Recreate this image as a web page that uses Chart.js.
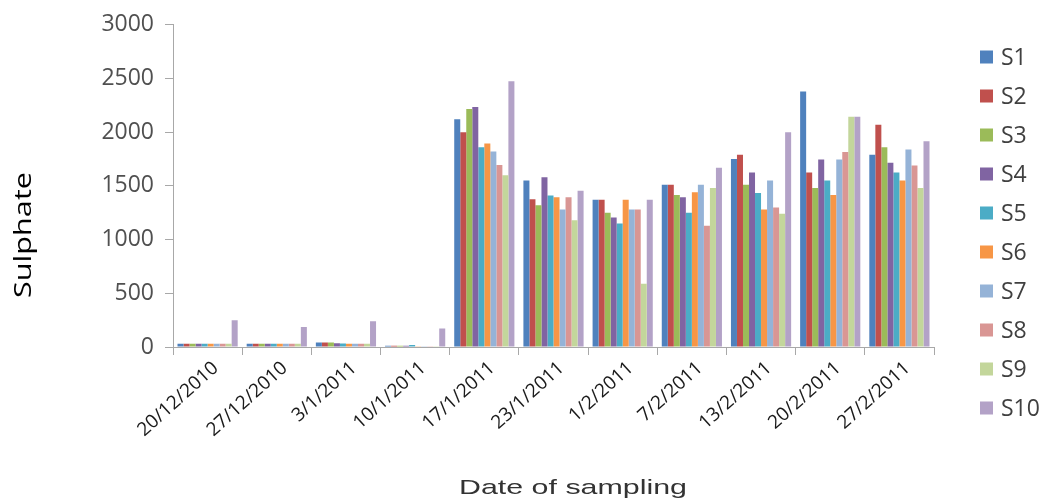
<!DOCTYPE html>
<html>
<head>
<meta charset="utf-8">
<script src="https://cdn.jsdelivr.net/npm/chart.js@4.4.0/dist/chart.umd.min.js"></script>
<style>
html,body{margin:0;padding:0;background:#fff;}
#wrap{width:1049px;height:503px;position:relative;}
</style>
</head>
<body>
<div id="wrap"><canvas id="c"></canvas></div>
<script>
// ---- data ----
const categories = ['20/12/2010','27/12/2010','3/1/2011','10/1/2011','17/1/2011','23/1/2011','1/2/2011','7/2/2011','13/2/2011','20/2/2011','27/2/2011'];
const seriesNames = ['S1','S2','S3','S4','S5','S6','S7','S8','S9','S10'];
const s1  = [30, 30, 43, 12, 2120, 1550, 1370, 1510, 1750, 2380, 1790];
const s2  = [30, 30, 43, 12, 2000, 1375, 1370, 1510, 1790, 1625, 2070];
const s3  = [30, 30, 43, 12, 2215, 1320, 1250, 1415, 1510, 1480, 1860];
const s4  = [30, 30, 35, 12, 2235, 1580, 1205, 1395, 1625, 1745, 1715];
const s5  = [30, 30, 33, 18, 1860, 1410, 1150, 1250, 1435, 1550, 1625];
const s6  = [30, 30, 30,  8, 1895, 1395, 1370, 1440, 1280, 1415, 1550];
const s7  = [30, 30, 30,  8, 1820, 1280, 1280, 1510, 1550, 1745, 1840];
const s8  = [30, 30, 30,  8, 1695, 1395, 1280, 1130, 1300, 1815, 1690];
const s9  = [30, 30, 30,  8, 1600, 1180,  590, 1480, 1240, 2145, 1480];
const s10 = [250, 186, 240, 172, 2475, 1455, 1370, 1670, 2000, 2145, 1915];
const seriesValues = [s1, s2, s3, s4, s5, s6, s7, s8, s9, s10];
const seriesColors = ['#4F81BD','#C0504D','#9BBB59','#8064A2','#4BACC6','#F79646','#95B3D7','#D99694','#C3D69B','#B3A2C7'];
const yMin = 0, yMax = 3000, yStep = 500;
const yAxisTitle = 'Sulphate';
const xAxisTitle = 'Date of sampling';

// ---- overlay: axis titles + legend ----
const overlay = {
  id: 'overlay',
  afterDraw(chart) {
    const ctx = chart.ctx;
    // y axis title
    ctx.save();
    ctx.font = '24px "Open Sans"';
    ctx.fillStyle = '#000';
    ctx.textAlign = 'center';
    ctx.textBaseline = 'middle';
    let w = ctx.measureText(yAxisTitle).width;
    ctx.translate(24, 235);
    ctx.rotate(-Math.PI / 2);
    ctx.scale(126 / w, 1);
    ctx.fillText(yAxisTitle, 0, 0);
    ctx.restore();
    // x axis title
    ctx.save();
    ctx.font = '21px "Liberation Sans"';
    ctx.fillStyle = '#333';
    ctx.textAlign = 'center';
    ctx.textBaseline = 'middle';
    w = ctx.measureText(xAxisTitle).width;
    ctx.translate(573, 488);
    ctx.scale(228 / w, 1);
    ctx.fillText(xAxisTitle, 0, 0);
    ctx.restore();
    // legend
    ctx.save();
    ctx.font = '23px "Open Sans"';
    ctx.textAlign = 'left';
    ctx.textBaseline = 'middle';
    chart.data.datasets.forEach((ds, i) => {
      const y = 57 + i * 39;
      ctx.fillStyle = ds.backgroundColor;
      ctx.fillRect(980, y - 6.5, 13, 13);
      ctx.fillStyle = '#404040';
      ctx.fillText(ds.label, 1001, y + 1);
    });
    ctx.restore();
  }
};

new Chart(document.getElementById('c'), {
  type: 'bar',
  data: {
    labels: categories,
    datasets: seriesNames.map((n, i) => ({
      label: n,
      data: seriesValues[i],
      backgroundColor: seriesColors[i],
      borderWidth: 0,
      barPercentage: 1.0,
      categoryPercentage: 0.87
    }))
  },
  options: {
    responsive: true,
    maintainAspectRatio: false,
    animation: false,
    layout: { padding: { top: 20, right: 115, bottom: 0, left: 0 } },
    plugins: { legend: { display: false }, tooltip: { enabled: false } },
    scales: {
      x: {
        grid: { display: true, drawOnChartArea: false, drawTicks: true, tickLength: 8, color: '#a8a8a8', offset: true },
        border: { display: true, color: '#a8a8a8', width: 1 },
        ticks: { font: { family: 'Open Sans', size: 19 }, color: '#1a1a1a', minRotation: 42, maxRotation: 42, padding: 2, labelOffset: 8, autoSkip: false },
        afterFit(s) { s.height = 156; }
      },
      y: {
        min: yMin, max: yMax,
        ticks: { stepSize: yStep, font: { family: 'Open Sans', size: 23 }, color: '#505050', padding: 11,
                 callback: (v) => String(v) },
        grid: { display: true, drawOnChartArea: false, drawTicks: true, tickLength: 8, color: '#a8a8a8' },
        border: { display: true, color: '#a8a8a8', width: 1 },
        afterFit(s) { s.width = 173; }
      }
    }
  },
  plugins: [overlay]
});
</script>
</body>
</html>
